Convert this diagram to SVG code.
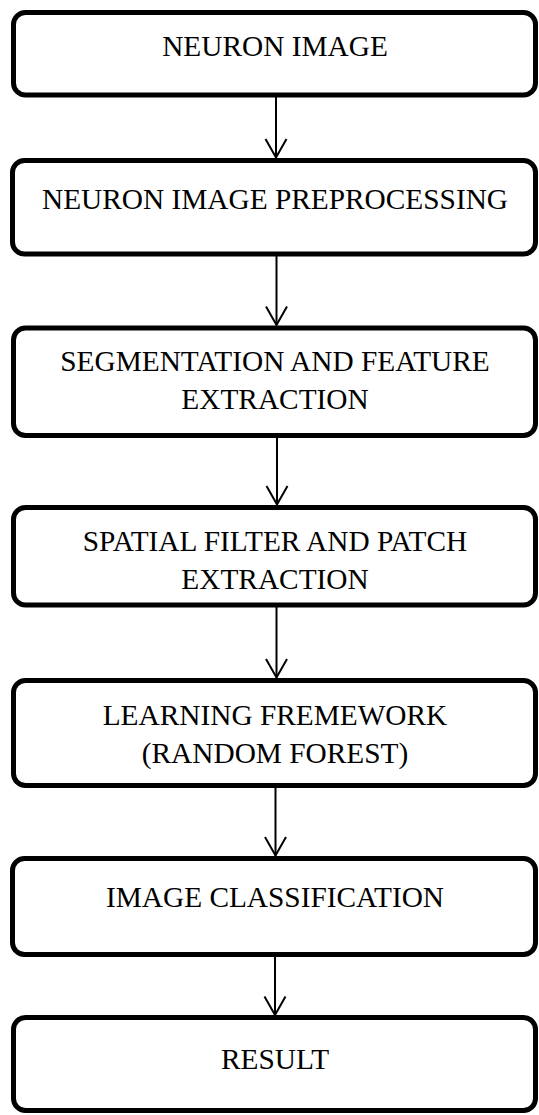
<svg xmlns="http://www.w3.org/2000/svg" width="539" height="1115" viewBox="0 0 539 1115">
<style>
.box{fill:#fff;stroke:#000;stroke-width:5}
.lbl{font-family:"Liberation Serif","Times New Roman",serif;font-size:29.33px;fill:#000;text-anchor:middle}
.conn{stroke:#000;stroke-width:2;fill:none}
</style>
<defs>
<marker id="arr" markerUnits="userSpaceOnUse" markerWidth="24" markerHeight="24" refX="19" refY="11" orient="auto" style="overflow:visible">
<path d="M0.5,0.5 L19,11 L0.5,21.5" fill="none" stroke="#000" stroke-width="2"/>
</marker>
</defs>
<rect width="539" height="1115" fill="#fff"/>
<g id="connectors">
<line class="conn" x1="276" y1="97" x2="276" y2="157.5" marker-end="url(#arr)"/>
<line class="conn" x1="276.5" y1="256" x2="276.5" y2="325" marker-end="url(#arr)"/>
<line class="conn" x1="277" y1="437.5" x2="277" y2="504.5" marker-end="url(#arr)"/>
<line class="conn" x1="276.5" y1="607" x2="276.5" y2="677.5" marker-end="url(#arr)"/>
<line class="conn" x1="275.5" y1="787" x2="275.5" y2="855.5" marker-end="url(#arr)"/>
<line class="conn" x1="275" y1="956" x2="275" y2="1015" marker-end="url(#arr)"/>
</g>
<g id="n1">
<rect class="box" x="13.5" y="12.5" width="522" height="82.5" rx="12"/>
<text class="lbl" x="275" y="55.5">NEURON IMAGE</text>
</g>
<g id="n2">
<rect class="box" x="12.5" y="160.5" width="523" height="93.5" rx="12"/>
<text class="lbl" x="275" y="209">NEURON IMAGE PREPROCESSING</text>
</g>
<g id="n3">
<rect class="box" x="13.5" y="328" width="522" height="107.5" rx="12"/>
<text class="lbl" x="275" y="371">SEGMENTATION AND FEATURE</text>
<text class="lbl" x="275" y="409">EXTRACTION</text>
</g>
<g id="n4">
<rect class="box" x="13.5" y="507.5" width="522" height="97.5" rx="12"/>
<text class="lbl" x="275" y="550.7">SPATIAL FILTER AND PATCH</text>
<text class="lbl" x="275" y="588.7">EXTRACTION</text>
</g>
<g id="n5">
<rect class="box" x="13.5" y="680.5" width="522" height="105" rx="12"/>
<text class="lbl" x="275" y="724.5">LEARNING FREMEWORK</text>
<text class="lbl" x="275" y="762.5">(RANDOM FOREST)</text>
</g>
<g id="n6">
<rect class="box" x="12.5" y="858.5" width="523" height="96" rx="12"/>
<text class="lbl" x="275" y="906.5">IMAGE CLASSIFICATION</text>
</g>
<g id="n7">
<rect class="box" x="13.5" y="1017.5" width="522" height="93" rx="12"/>
<text class="lbl" x="275" y="1068.5">RESULT</text>
</g>
</svg>
